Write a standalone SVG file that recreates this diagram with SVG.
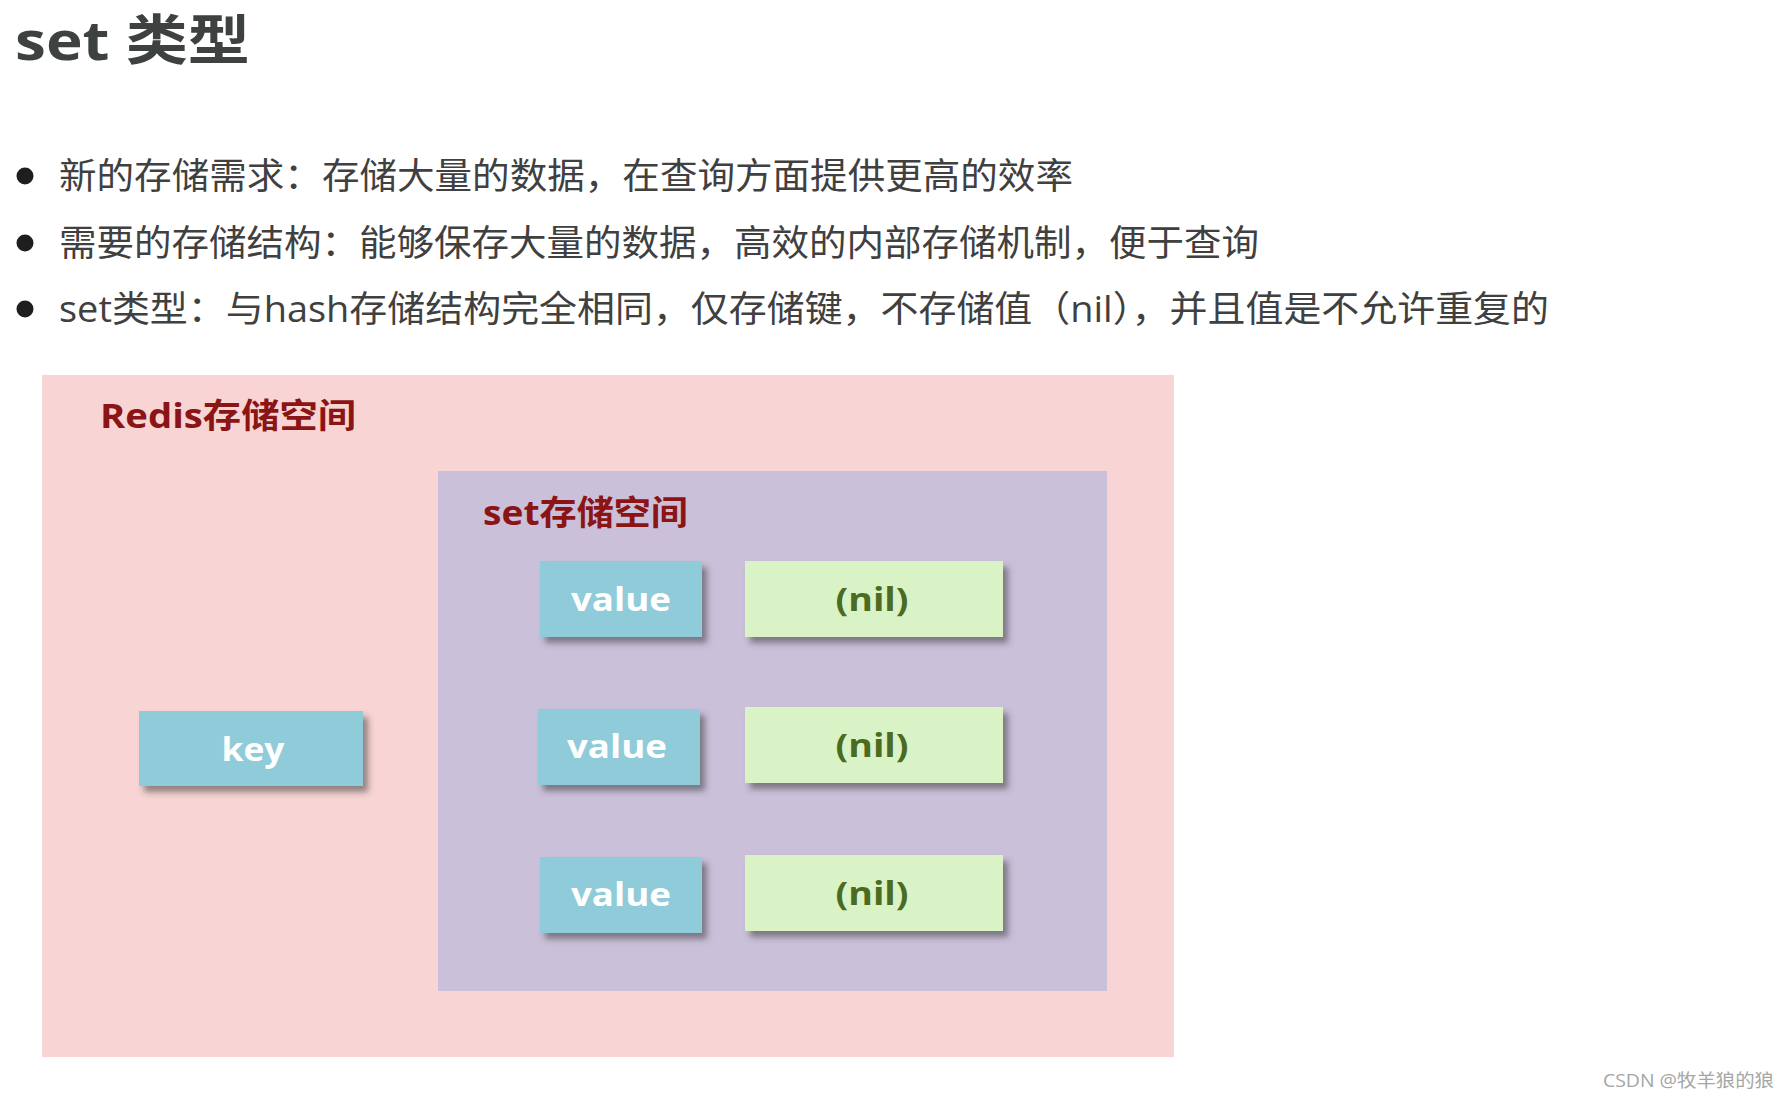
<svg xmlns="http://www.w3.org/2000/svg" width="1790" height="1098" viewBox="0 0 1790 1098">
<style>
  .cjk { font-family: "Open Sans", "Noto Sans CJK SC", sans-serif; }
  .title { font-size: 54px; font-weight: bold; fill: #3d4240; }
  .bullet-text { font-size: 36px; fill: #404040; }
  .bullet { fill: #1e1e1e; }
  .area-label { font-size: 34px; font-weight: bold; fill: #8b1414; }
  .cell-text { font-size: 32px; font-weight: bold; text-anchor: middle; }
  .blue { fill: #8fcbd9; }
  .green { fill: #d9f3c6; }
  .white-text { fill: #ffffff; }
  .nil-text { fill: #4b6b22; }
  .wm { font-size: 18px; fill: #a6a6a6; }
</style>
<defs>
  <filter id="shadow" x="-10%" y="-20%" width="130%" height="160%">
    <feDropShadow dx="5" dy="6" stdDeviation="3" flood-color="#3a3a3a" flood-opacity="0.55"/>
  </filter>
</defs>
<rect x="0" y="0" width="1790" height="1098" fill="#ffffff"/>

<g id="title">
  <text class="cjk title" x="15" y="60" textLength="235" lengthAdjust="spacingAndGlyphs">set 类型</text>
</g>

<g id="bullets">
  <circle class="bullet" cx="25" cy="176" r="8.5"/>
  <text class="cjk bullet-text" x="59" y="189" textLength="1014" lengthAdjust="spacingAndGlyphs">新的存储需求：存储大量的数据，在查询方面提供更高的效率</text>
  <circle class="bullet" cx="25" cy="243" r="8.5"/>
  <text class="cjk bullet-text" x="59" y="256" textLength="1200" lengthAdjust="spacingAndGlyphs">需要的存储结构：能够保存大量的数据，高效的内部存储机制，便于查询</text>
  <circle class="bullet" cx="25" cy="309" r="8.5"/>
  <text class="cjk bullet-text" x="59" y="322" textLength="1490" lengthAdjust="spacingAndGlyphs">set类型：与hash存储结构完全相同，仅存储键，不存储值（nil），并且值是不允许重复的</text>
</g>

<g id="redis-space">
  <rect x="42" y="375" width="1132" height="682" fill="#f8d4d4"/>
  <text class="cjk area-label" x="100" y="428" textLength="256" lengthAdjust="spacingAndGlyphs">Redis存储空间</text>
</g>

<g id="set-space">
  <rect x="438" y="471" width="669" height="520" fill="#cbc0da"/>
  <text class="cjk area-label" x="483" y="525" textLength="205" lengthAdjust="spacingAndGlyphs">set存储空间</text>
</g>

<g id="key">
  <rect class="blue" x="139" y="711" width="224" height="75" filter="url(#shadow)"/>
  <text class="cjk cell-text white-text" x="253" y="761" textLength="63" lengthAdjust="spacingAndGlyphs">key</text>
</g>

<g id="value1">
  <rect class="blue" x="540" y="561" width="162" height="76" filter="url(#shadow)"/>
  <text class="cjk cell-text white-text" x="621" y="611" textLength="100" lengthAdjust="spacingAndGlyphs">value</text>
</g>
<g id="nil1">
  <rect class="green" x="745" y="561" width="258" height="76" filter="url(#shadow)"/>
  <text class="cjk cell-text nil-text" x="872" y="611" textLength="73" lengthAdjust="spacingAndGlyphs">(nil)</text>
</g>

<g id="value2">
  <rect class="blue" x="538" y="709" width="162" height="76" filter="url(#shadow)"/>
  <text class="cjk cell-text white-text" x="617" y="758" textLength="100" lengthAdjust="spacingAndGlyphs">value</text>
</g>
<g id="nil2">
  <rect class="green" x="745" y="707" width="258" height="76" filter="url(#shadow)"/>
  <text class="cjk cell-text nil-text" x="872" y="757" textLength="73" lengthAdjust="spacingAndGlyphs">(nil)</text>
</g>

<g id="value3">
  <rect class="blue" x="540" y="857" width="162" height="76" filter="url(#shadow)"/>
  <text class="cjk cell-text white-text" x="621" y="906" textLength="100" lengthAdjust="spacingAndGlyphs">value</text>
</g>
<g id="nil3">
  <rect class="green" x="745" y="855" width="258" height="76" filter="url(#shadow)"/>
  <text class="cjk cell-text nil-text" x="872" y="905" textLength="73" lengthAdjust="spacingAndGlyphs">(nil)</text>
</g>

<g id="connectors"></g>

<g id="watermark">
  <text class="cjk wm" x="1603" y="1087" textLength="171" lengthAdjust="spacingAndGlyphs">CSDN @牧羊狼的狼</text>
</g>
</svg>
